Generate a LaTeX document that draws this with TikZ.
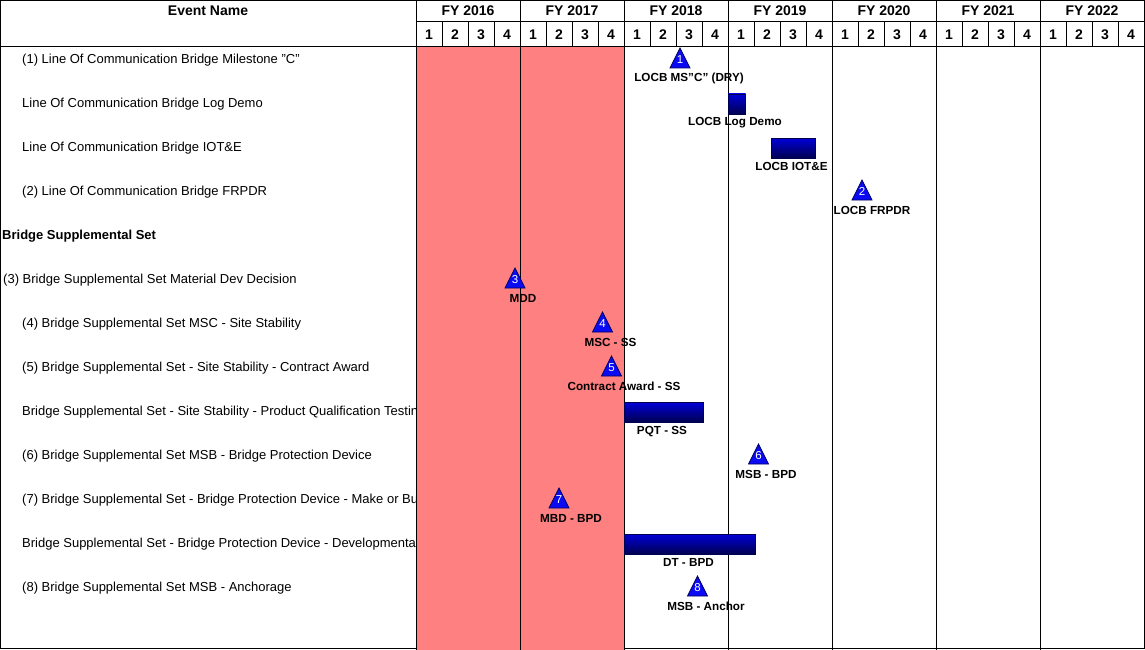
\documentclass[tikz,border=0pt]{standalone}
\usepackage{fontspec}
\setmainfont{Liberation Sans}
\definecolor{fyred}{RGB}{255,128,128}
\definecolor{msblue}{RGB}{10,10,245}
\definecolor{msedge}{RGB}{0,0,90}
\definecolor{bartop}{RGB}{0,0,215}
\definecolor{barbot}{RGB}{0,0,80}
\tikzset{
  gridln/.style={line width=1pt,black},
  hdrtxt/.style={font=\fontsize{14}{16}\selectfont\bfseries,inner sep=0pt},
  evtxt/.style={font=\fontsize{13}{15}\selectfont,anchor=base west,inner sep=0pt},
  grptxt/.style={evtxt,font=\fontsize{13}{15}\selectfont\bfseries},
  mslbl/.style={font=\fontsize{11.7}{13}\selectfont\bfseries,anchor=base,inner sep=0pt},
  msnum/.style={font=\fontsize{11.5}{12}\selectfont,text=white,inner sep=0pt},
  msmark/.style={fill=msblue,draw=msedge,line width=0.8pt,line join=miter},
  barblk/.style={top color=bartop,bottom color=barbot,draw=barbot,line width=0.8pt}
}
\begin{document}
\begin{tikzpicture}[x=1pt,y=-1pt]
  \useasboundingbox (0,0) rectangle (1145,650);
  % Frame and past-years shading
  \draw[gridln] (0.5,0.5) rectangle (1144.5,648);
  \fill[fyred] (416,47) rectangle (624,650);

  % Grid
  \draw[gridln] (0.5,47) -- (1144.5,47);
  \draw[gridln] (416,22) -- (1144.5,22);
  \draw[gridln] (416,0.5) -- (416,650);
  \foreach \i in {1,...,6}
    \draw[gridln] (416+104*\i,0.5) -- (416+104*\i,650);
  \foreach \q in {1,...,27}
    \draw[gridln] (416+26*\q,22) -- (416+26*\q,47);

  % Header
  \node[hdrtxt] (evhdr) at (208,11) {Event Name};
  \foreach \yr [count=\i from 0] in {2016,...,2022} {
    \node[hdrtxt] (fy\yr) at (468+104*\i,11) {FY \yr};
    \foreach \q in {1,...,4}
      \node[hdrtxt] (q\yr\q) at (403+104*\i+26*\q,35) {\q};
  }

  % Event names
  \begin{scope}
    \clip (0,47) rectangle (415.5,648);
    \foreach \r/\ind/\txt in {
      0/22/{(1) Line Of Communication Bridge Milestone \char34C\char34},
      1/22/{Line Of Communication Bridge Log Demo},
      2/22/{Line Of Communication Bridge IOT\&E},
      3/22/{(2) Line Of Communication Bridge FRPDR},
      5/3/{(3) Bridge Supplemental Set Material Dev Decision},
      6/22/{(4) Bridge Supplemental Set MSC - Site Stability},
      7/22/{(5) Bridge Supplemental Set - Site Stability - Contract Award},
      8/22/{Bridge Supplemental Set - Site Stability - Product Qualification Testing},
      9/22/{(6) Bridge Supplemental Set MSB - Bridge Protection Device},
      10/22/{(7) Bridge Supplemental Set - Bridge Protection Device - Make or Buy Decision},
      11/22/{Bridge Supplemental Set - Bridge Protection Device - Developmental Testing},
      12/22/{(8) Bridge Supplemental Set MSB - Anchorage}}
      \node[evtxt] (ev\r) at (\ind,63.5+44*\r) {\txt};
    \node[grptxt] (ev4) at (2,63.5+44*4) {Bridge Supplemental Set};
  \end{scope}

  % Activity bars
  \foreach \r/\xa/\xb/\lx/\nm/\txt in {
    1/728/745.5/735/logdemo/{LOCB Log Demo},
    2/771/815/791.5/iote/{LOCB IOT\&E},
    8/624/703/662/pqt/{PQT - SS},
    11/624/755/688.5/dtbpd/{DT - BPD}} {
    \draw[barblk] (\xa,50+44*\r) rectangle (\xb,70+44*\r);
    \node[mslbl] (\nm) at (\lx,82+44*\r) {\txt};
  }

  % Milestones
  \foreach \r/\mx/\lx/\n/\txt in {
    0/680/689/1/{LOCB MS\char34C\char34{} (DRY)},
    3/862/872/2/{LOCB FRPDR},
    5/515/523/3/{MDD},
    6/602.5/610.5/4/{MSC - SS},
    7/611.5/624/5/{Contract Award - SS},
    9/758.5/766/6/{MSB - BPD},
    10/559/571/7/{MBD - BPD},
    12/697.5/706/8/{MSB - Anchor}} {
    \draw[msmark] (\mx-10,68+44*\r) -- (\mx,48+44*\r) -- (\mx+10,68+44*\r) -- cycle;
    \node[msnum] (ms\n) at (\mx,59.5+44*\r) {\n};
    \node[mslbl] (msl\n) at (\lx,82+44*\r) {\txt};
  }
\end{tikzpicture}
\end{document}
